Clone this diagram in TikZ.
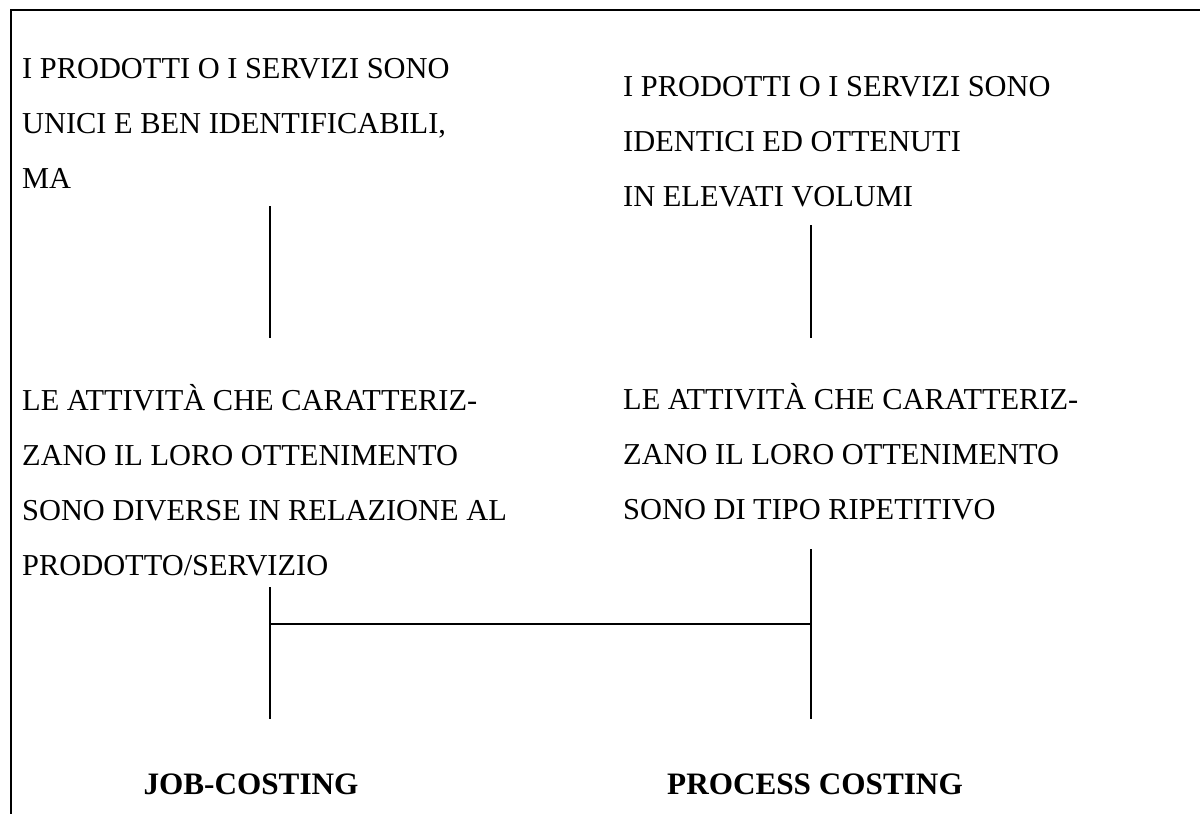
\documentclass[tikz,border=0pt]{standalone}
\usepackage{fontspec}
\setmainfont{Liberation Serif}
\begin{document}
\begin{tikzpicture}[x=1pt,y=-1pt,
  txt/.style={anchor=base west,inner sep=0pt,align=left,font=\fontsize{30.4}{55}\selectfont},
  lbl/.style={anchor=base,inner sep=0pt,font=\fontsize{31.2}{36}\selectfont\bfseries},
  conn/.style={line width=2pt},
  frame/.style={line width=2.4pt}]
\useasboundingbox (0,0) rectangle (1200,814);
\draw[frame] (11,814) -- (11,10) -- (1200,10);
\node[txt] (a) at (22,188) {I PRODOTTI O I SERVIZI SONO\\UNICI E BEN IDENTIFICABILI,\\MA};
\node[txt] (b) at (623,206) {I PRODOTTI O I SERVIZI SONO\\IDENTICI ED OTTENUTI\\IN ELEVATI VOLUMI};
\node[txt] (c) at (22,575) {LE ATTIVITÀ CHE CARATTERIZ-\\ZANO IL LORO OTTENIMENTO\\SONO DIVERSE IN RELAZIONE AL\\PRODOTTO/SERVIZIO};
\node[txt] (d) at (623,519) {LE ATTIVITÀ CHE CARATTERIZ-\\ZANO IL LORO OTTENIMENTO\\SONO DI TIPO RIPETITIVO};
\node[lbl] (job) at (251,794) {JOB-COSTING};
\node[lbl] (proc) at (815,794) {PROCESS COSTING};
\coordinate (a1) at (270,206);
\coordinate (c1) at (270,338);
\coordinate (b1) at (811,225);
\coordinate (d1) at (811,338);
\coordinate (c2) at (270,587);
\coordinate (j1) at (270,719);
\coordinate (d2) at (811,549);
\coordinate (p1) at (811,719);
\coordinate (m1) at (270,624);
\coordinate (m2) at (811,624);
\draw[conn] (a1) -- (c1);
\draw[conn] (b1) -- (d1);
\draw[conn] (c2) -- (j1);
\draw[conn] (d2) -- (p1);
\draw[conn] (m1) -- (m2);
\end{tikzpicture}
\end{document}
